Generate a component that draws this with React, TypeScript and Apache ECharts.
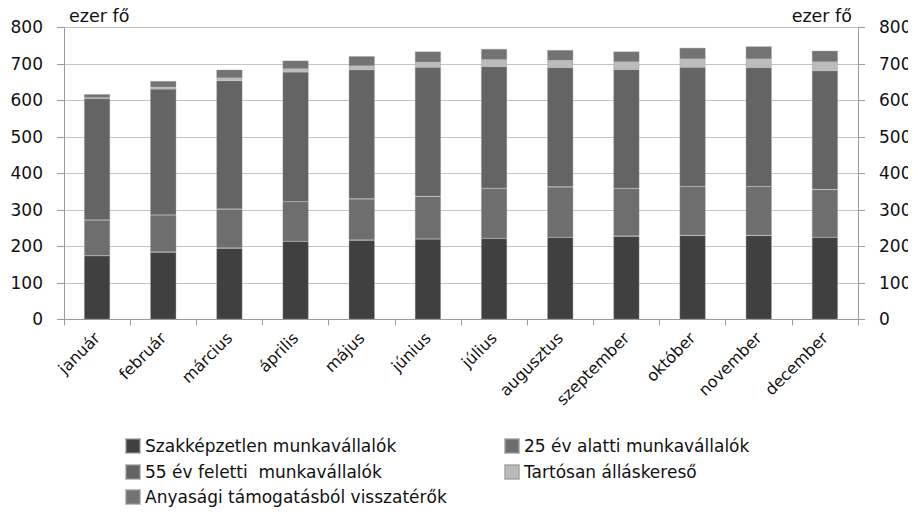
import React, { useEffect, useRef } from "react";
import * as echarts from "echarts";

// Havi adatok, ezer fő
const months = [
  "január", "február", "március", "április", "május", "június",
  "július", "augusztus", "szeptember", "október", "november", "december",
];

const seriesNames = [
  "Szakképzetlen munkavállalók",
  "25 év alatti munkavállalók",
  "55 év feletti  munkavállalók",
  "Tartósan álláskereső",
  "Anyasági támogatásból visszatérők",
];

const unskilled = [174, 184, 195, 214, 217, 220, 222, 225, 228, 230, 230, 225];
const under25 = [98, 102, 107, 108, 113, 117, 137, 138, 131, 134, 134, 131];
const over55 = [333, 345, 352, 356, 354, 354, 334, 327, 326, 327, 326, 325];
const longTerm = [2, 5, 7, 8, 10, 13, 18, 19, 20, 22, 23, 24];
const returningParents = [10, 17, 23, 23, 27, 30, 30, 29, 29, 31, 35, 31];

const yTicks = { min: 0, max: 800, interval: 100 };

const colors = ["#404040", "#6e6e6e", "#646464", "#bcbcbc", "#737373"];
const FONT = "DejaVu Sans";

// legend slots: [column left, row centre]
const legendSlots: [number, number][] = [
  [125, 446],
  [504, 446],
  [125, 472],
  [504, 472],
  [125, 497],
];

export default function App() {
  const ref = useRef<HTMLDivElement>(null);

  useEffect(() => {
    if (!ref.current) return;
    const chart = echarts.init(ref.current, undefined, { renderer: "svg" });
    const values = [unskilled, under25, over55, longTerm, returningParents];

    const yAxisBase = {
      type: "value" as const,
      min: yTicks.min,
      max: yTicks.max,
      interval: yTicks.interval,
      axisLine: { show: true, lineStyle: { color: "#9a9a9a", width: 1 } },
      axisTick: { show: true, length: 7, lineStyle: { color: "#9a9a9a" } },
      axisLabel: { color: "#111", fontSize: 17, fontFamily: FONT, margin: 21 },
      nameLocation: "end" as const,
      nameGap: 2,
    };

    chart.setOption({
      animation: false,
      textStyle: { fontFamily: FONT },
      color: colors,
      grid: { left: 64, right: 58, top: 27.4, bottom: 193.7, containLabel: false },
      legend: seriesNames.map((name, i) => ({
        data: [name],
        left: legendSlots[i][0],
        top: legendSlots[i][1] - 10,
        padding: 0,
        itemWidth: 14,
        itemHeight: 14,
        icon: "rect",
        textStyle: { color: "#111", fontSize: 17, fontFamily: FONT, lineHeight: 20 },
      })),
      xAxis: {
        type: "category",
        data: months,
        axisLine: { lineStyle: { color: "#9a9a9a" } },
        axisTick: { show: true, length: 6, alignWithLabel: false, lineStyle: { color: "#9a9a9a" } },
        axisLabel: {
          rotate: 45,
          color: "#111",
          fontSize: 16,
          fontFamily: FONT,
          margin: 16,
          interval: 0,
        },
      },
      yAxis: [
        {
          ...yAxisBase,
          position: "left",
          name: "ezer fő",
          nameTextStyle: {
            color: "#111",
            fontSize: 17.5,
            fontFamily: FONT,
            align: "left",
            verticalAlign: "bottom",
            padding: [0, 0, 0, 5],
          },
          splitLine: { show: true, lineStyle: { color: "#c4c4c4", width: 1.2 } },
        },
        {
          ...yAxisBase,
          position: "right",
          name: "ezer fő",
          nameTextStyle: {
            color: "#111",
            fontSize: 17.5,
            fontFamily: FONT,
            align: "right",
            verticalAlign: "bottom",
            padding: [0, 6, 0, 0],
          },
          splitLine: { show: false },
        },
      ],
      series: seriesNames.map((name, i) => ({
        name,
        type: "bar",
        stack: "total",
        barWidth: 26,
        data: values[i],
        itemStyle: { color: colors[i], borderColor: "rgba(150,150,150,0.6)", borderWidth: 0.6 },
      })),
    });

    return () => chart.dispose();
  }, []);

  return <div ref={ref} style={{ width: 916, height: 513, margin: "-8px 0 0 -8px" }} />;
}
